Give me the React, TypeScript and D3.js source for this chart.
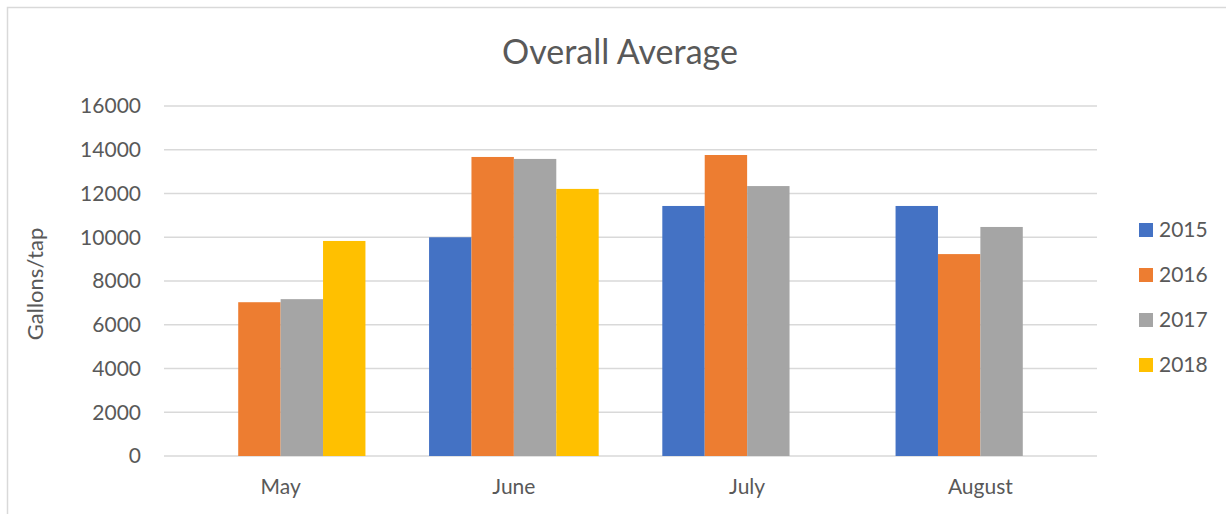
import React from "react";
import * as d3 from "d3";

const categories = ["May", "June", "July", "August"];
const seriesNames = ["2015", "2016", "2017", "2018"];
const values2015 = [null, 10000, 11430, 11430];
const values2016 = [7030, 13670, 13760, 9230];
const values2017 = [7170, 13580, 12340, 10470];
const values2018 = [9830, 12210, null, null];
const yTicks = [0, 2000, 4000, 6000, 8000, 10000, 12000, 14000, 16000];
const colors = ["#4472C4", "#ED7D31", "#A5A5A5", "#FFC000"];

const W = 1226;
const H = 514;
const font = "Lato, 'Open Sans', sans-serif";
const textColor = "#595959";

export default function App() {
  const series = [values2015, values2016, values2017, values2018];
  const left = 164;
  const right = 1097;
  const top = 106;
  const bottom = 456;

  const x0 = d3.scaleBand<string>().domain(categories).range([left, right]).padding(0);
  const bw = x0.bandwidth();
  const barW = bw / (4 + 1.5);
  const x1 = d3
    .scaleBand<string>()
    .domain(seriesNames)
    .range([barW * 0.75, bw - barW * 0.75])
    .padding(0);
  const y = d3.scaleLinear().domain([0, 16000]).range([bottom, top]);

  return (
    <svg
      width={W}
      height={H}
      style={{ position: "absolute", left: 0, top: 0, background: "#fff" }}
      fontFamily={font}
    >
      <rect x={7.5} y={7.5} width={W + 10} height={H + 10} fill="#fff" stroke="#D9D9D9" strokeWidth={1.5} />
      <text x={620} y={64} textAnchor="middle" fontSize={34} fill={textColor}>
        Overall Average
      </text>
      {yTicks.map((t) => (
        <g key={t}>
          <line x1={left} x2={right} y1={y(t)} y2={y(t)} stroke="#D9D9D9" strokeWidth={1.5} />
          <text x={141} y={y(t)} dy="0.35em" textAnchor="end" fontSize={21} fill={textColor}>
            {t}
          </text>
        </g>
      ))}
      {categories.map((c, ci) => (
        <g key={c}>
          {series.map((s, si) => {
            const v = s[ci];
            if (v == null) return null;
            return (
              <rect
                key={si}
                x={(x0(c) as number) + (x1(seriesNames[si]) as number)}
                y={y(v)}
                width={x1.bandwidth()}
                height={y(0) - y(v)}
                fill={colors[si]}
              />
            );
          })}
          <text
            x={(x0(c) as number) + bw / 2}
            y={487}
            dy="0.35em"
            textAnchor="middle"
            fontSize={21}
            fill={textColor}
          >
            {c}
          </text>
        </g>
      ))}
      <text
        transform={`translate(35,${(top + bottom) / 2 + 3}) rotate(-90)`}
        textAnchor="middle"
        dy="0.35em"
        fontSize={22}
        fill={textColor}
      >
        Gallons/tap
      </text>
      {seriesNames.map((n, i) => (
        <g key={n} transform={`translate(1139,${230 + i * 45})`}>
          <rect x={0} y={-7} width={14} height={14} fill={colors[i]} />
          <text x={20} y={0} dy="0.35em" fontSize={21} fill={textColor}>
            {n}
          </text>
        </g>
      ))}
    </svg>
  );
}
